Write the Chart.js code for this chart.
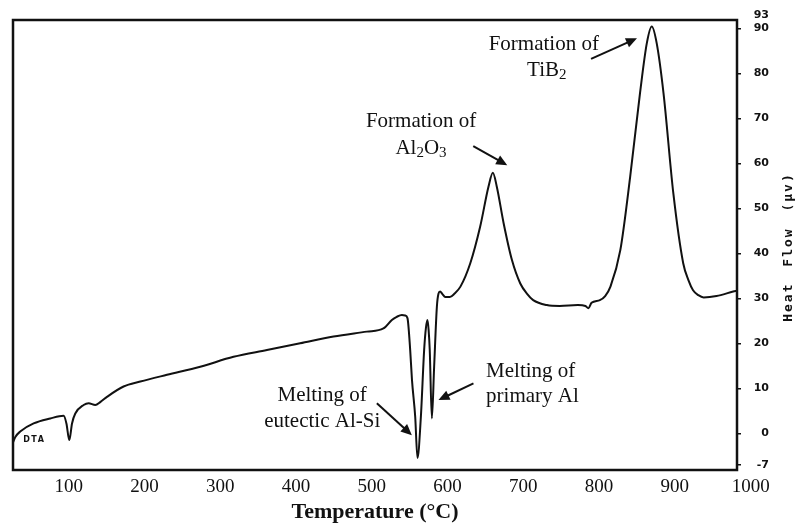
<!DOCTYPE html>
<html>
<head>
<meta charset="utf-8">
<script src="https://cdn.jsdelivr.net/npm/chart.js@4.4.1/dist/chart.umd.min.js"></script>
<style>
  html, body { margin: 0; padding: 0; background: #fff; }
  canvas { display: block; }
</style>
</head>
<body>
<canvas id="dta-chart" width="795" height="527"></canvas>
<script>
// DTA curve: temperature (°C) and heat flow (µV)
const temps = [
    26.5, 29.6, 36, 53.7, 75.7, 93.3, 97, 100.8, 104.4, 108.7, 119.7, 126.3, 135.1, 142,
    150.5, 172.4, 194.5, 229.7, 273.6, 317.5, 361.6, 405.5, 449.5, 493.5, 515.4, 526.5,
    533, 539.7, 544, 547.1, 550.7, 553, 557.3, 560.3, 564.8, 569.1, 571.5, 573.5, 575,
    576.5, 579.3, 582.3, 585.9, 588, 590.2, 593, 597, 603, 609, 617, 630, 643, 654,
    659.8, 665, 674, 685, 696, 705, 713, 731, 748, 772, 782, 786, 790, 801, 808, 815,
    828, 841, 854, 863, 869.5, 876, 885, 898, 911, 918, 924, 931, 938, 955, 977, 982
];
const heatFlow = [
    -2.0, -0.8, 0.4, 2.2, 3.3, 3.9, 2.2, -1.5, 2.2, 4.4, 6.3, 6.7, 6.3, 7.0,
    8.1, 10.4, 11.5, 13.0, 14.8, 17.0, 18.5, 20.0, 21.5, 22.6, 23.3, 25.2,
    25.9, 26.3, 26.2, 25.6, 18.5, 12, 3.7, -5.5, 3.7, 18.5, 23.5, 25.2, 23,
    18.5, 3.3, 14.8, 28.1, 31.0, 31.5, 31.0, 30.3, 30.3, 31.0, 32.6, 37.8, 45.9, 54.8,
    57.9, 54.8, 46.7, 38.5, 33.3, 31.0, 29.6, 28.5, 28.3, 28.5, 28.3, 27.8, 29.0, 29.6, 30.5, 32.6,
    40.7, 57, 75.6, 86.7, 90.4, 86.7, 75.6, 53.3, 37.8, 34, 31.8, 30.7, 30.2, 30.5, 31.5, 31.7
];

// tick labels
const xTicks = [100, 200, 300, 400, 500, 600, 700, 800, 900, 1000];
const yTicks = [-7, 0, 10, 20, 30, 40, 50, 60, 70, 80, 90, 93];

// annotation texts, anchored in data units (runs: [text, isSubscript])
const notes = [
    { t: 727, v: 86.5, runs: [['Formation of', 0]] },
    { t: 731, v: 80.7, runs: [['TiB', 0], ['2', 1]] },
    { t: 565, v: 69.4, runs: [['Formation of', 0]] },
    { t: 565, v: 63.4, runs: [['Al', 0], ['2', 1], ['O', 0], ['3', 1]] },
    { t: 434.4, v: 8.3, runs: [['Melting of', 0]] },
    { t: 434.6, v: 2.7, runs: [['eutectic Al-Si', 0]] },
    { t: 650.9, v: 13.7, runs: [['Melting of', 0]], align: 'left' },
    { t: 650.9, v: 8.1, runs: [['primary Al', 0]], align: 'left' }
];
// arrows: [fromT, fromV, toT, toV]
const arrows = [
    [789.4, 83.2, 850, 87.8],
    [633.9, 63.8, 678.8, 59.6],
    [506.7, 6.7, 552.9, -0.4],
    [634.2, 11.1, 588, 7.4]
];

const serif = "'Liberation Serif', 'Times New Roman', serif";

const drawRuns = (ctx, runs, x, y, align) => {
    const big = '21px ' + serif;
    const small = '15px ' + serif;
    let total = 0;
    runs.forEach(([txt, sub]) => {
        ctx.font = sub ? small : big;
        total += ctx.measureText(txt).width;
    });
    let cx = align === 'left' ? x : x - total / 2;
    ctx.textAlign = 'left';
    ctx.textBaseline = 'middle';
    runs.forEach(([txt, sub]) => {
        ctx.font = sub ? small : big;
        ctx.fillText(txt, cx, sub ? y + 5 : y);
        cx += ctx.measureText(txt).width;
    });
};

const drawArrow = (ctx, x1, y1, x2, y2) => {
    const ang = Math.atan2(y2 - y1, x2 - x1);
    const len = 11, half = 5;
    ctx.beginPath();
    ctx.moveTo(x1, y1);
    ctx.lineTo(x2 - Math.cos(ang) * len * 0.8, y2 - Math.sin(ang) * len * 0.8);
    ctx.stroke();
    ctx.beginPath();
    ctx.moveTo(x2, y2);
    ctx.lineTo(x2 - Math.cos(ang) * len + Math.sin(ang) * half, y2 - Math.sin(ang) * len - Math.cos(ang) * half);
    ctx.lineTo(x2 - Math.cos(ang) * len - Math.sin(ang) * half, y2 - Math.sin(ang) * len + Math.cos(ang) * half);
    ctx.closePath();
    ctx.fill();
};

const overlay = {
    id: 'overlay',
    afterDraw(chart) {
        const { ctx, chartArea: a, scales: { x, y } } = chart;
        ctx.save();
        // frame
        ctx.strokeStyle = '#111';
        ctx.lineWidth = 2.5;
        ctx.strokeRect(a.left, a.top, a.right - a.left, a.bottom - a.top);

        // annotations
        ctx.fillStyle = '#111';
        notes.forEach(n => drawRuns(ctx, n.runs, x.getPixelForValue(n.t), y.getPixelForValue(n.v), n.align));
        ctx.lineWidth = 2;
        arrows.forEach(([t1, v1, t2, v2]) => {
            drawArrow(ctx, x.getPixelForValue(t1), y.getPixelForValue(v1), x.getPixelForValue(t2), y.getPixelForValue(v2));
        });

        // DTA label
        ctx.font = 'bold 8px "DejaVu Sans"';
        ctx.letterSpacing = '1.5px';
        ctx.textAlign = 'center';
        ctx.textBaseline = 'middle';
        ctx.fillText('DTA', x.getPixelForValue(54.6), y.getPixelForValue(-1.5));

        // right axis title, reads bottom to top
        ctx.translate(chart.width - 6, y.getPixelForValue(41.4));
        ctx.rotate(-Math.PI / 2);
        ctx.font = 'bold 13px "DejaVu Sans Mono"';
        ctx.letterSpacing = '2px';
        ctx.wordSpacing = '6px';
        ctx.fillText('Heat Flow (\u03bcv)', 0, 0);
        ctx.restore();
    }
};

const ctx = document.getElementById('dta-chart').getContext('2d');

new Chart(ctx, {
    type: 'line',
    data: {
        datasets: [{
            data: temps.map((t, i) => ({ x: t, y: heatFlow[i] })),
            borderColor: '#111',
            borderWidth: 2,
            pointRadius: 0,
            fill: false,
            cubicInterpolationMode: 'monotone'
        }]
    },
    options: {
        responsive: false,
        animation: false,
        layout: { padding: { left: 13, top: 20, right: 26, bottom: 0 } },
        plugins: {
            legend: { display: false },
            tooltip: { enabled: false }
        },
        scales: {
            x: {
                type: 'linear',
                min: 26.5,
                max: 982,
                afterBuildTicks: (scale) => { scale.ticks = xTicks.map(v => ({ value: v })); },
                afterFit: (scale) => { scale.height = 57; },
                grid: { display: false, drawTicks: false },
                border: { display: false },
                ticks: {
                    autoSkip: false,
                    maxRotation: 0,
                    padding: 6,
                    color: '#111',
                    font: { family: serif, size: 19 },
                    callback: (v) => String(v)
                },
                title: {
                    display: true,
                    text: 'Temperature (°C)',
                    color: '#111',
                    font: { family: serif, size: 22, weight: 'bold' },
                    padding: { top: 0, bottom: 1 }
                }
            },
            y: {
                position: 'right',
                min: -8.15,
                max: 91.85,
                afterBuildTicks: (scale) => { scale.ticks = yTicks.map(v => ({ value: v })); },
                afterFit: (scale) => { scale.width = 32; },
                grid: {
                    drawOnChartArea: false,
                    drawTicks: true,
                    tickLength: 4,
                    lineWidth: 1.5,
                    color: (c) => (c.tick && c.tick.value > 91.85 ? 'rgba(0,0,0,0)' : '#111')
                },
                border: { display: false },
                ticks: {
                    autoSkip: false,
                    crossAlign: 'far',
                    padding: 10,
                    color: '#111',
                    font: { family: "'DejaVu Sans'", size: 11, weight: 'bold' },
                    callback: (v) => String(v)
                }
            }
        }
    },
    plugins: [overlay]
});
</script>
</body>
</html>
